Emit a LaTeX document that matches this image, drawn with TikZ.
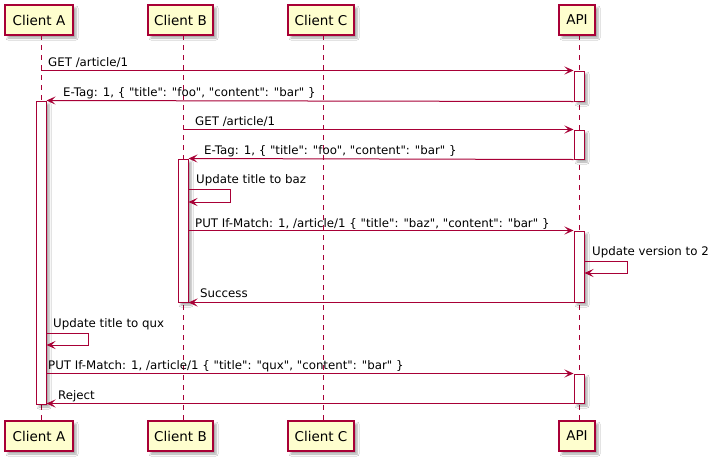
\documentclass[tikz,border=0pt]{standalone}
\usepackage{fontspec}
\setmainfont{DejaVu Sans}
\usetikzlibrary{arrows.meta,shadows.blur}
\definecolor{pumlred}{HTML}{A80036}
\definecolor{pumlfill}{HTML}{FEFECE}
\newcommand{\qq}{\textquotedbl}
\begin{document}
\begin{tikzpicture}[x=1pt,y=-1pt,
  pshadow/.style={blur shadow={shadow xshift=3pt,shadow yshift=-3pt,shadow blur radius=2pt,shadow opacity=35}},
  participant/.style={draw=pumlred,fill=pumlfill,line width=1.5pt,minimum height=30pt,inner sep=0pt,
    font=\fontsize{13.5}{16}\selectfont,pshadow},
  activation/.style={draw=pumlred,fill=white,line width=1pt,minimum width=10pt,inner sep=0pt,pshadow},
  lifeline/.style={draw=pumlred,line width=0.9pt,dash pattern=on 5pt off 5pt},
  msg/.style={draw=pumlred,line width=1pt,-{Stealth[length=9pt,width=8pt,inset=4pt]}},
  lbl/.style={anchor=base west,inner sep=0pt,font=\fontsize{11.8}{14}\selectfont}]
\useasboundingbox (0,0) rectangle (720,464);
\fill[white] (0,0) rectangle (720,464);

% participants
\node[participant,minimum width=68pt] (topA) at (39,20) {Client A};
\node[participant,minimum width=65pt] (topB) at (180.5,20) {Client B};
\node[participant,minimum width=66pt] (topC) at (321,20) {Client C};
\node[participant,minimum width=36pt] (topAPI) at (577,20) {API};
\node[participant,minimum width=68pt] (botA) at (39,436) {Client A};
\node[participant,minimum width=65pt] (botB) at (180.5,436) {Client B};
\node[participant,minimum width=66pt] (botC) at (321,436) {Client C};
\node[participant,minimum width=36pt] (botAPI) at (577,436) {API};

% lifelines
\coordinate (lA) at (41,35);  \coordinate (lAe) at (41,421);
\coordinate (lB) at (183,35); \coordinate (lBe) at (183,421);
\coordinate (lC) at (323,35); \coordinate (lCe) at (323,421);
\coordinate (lP) at (579,35); \coordinate (lPe) at (579,421);
\draw[lifeline] (lA) -- (lAe);
\draw[lifeline] (lB) -- (lBe);
\draw[lifeline] (lC) -- (lCe);
\draw[lifeline] (lP) -- (lPe);

% activations
\node[activation,minimum height=303pt] (actA) at (41,252.5) {};
\node[activation,minimum height=143pt] (actB) at (183,230.5) {};
\node[activation,minimum height=30pt] (api1) at (579,86) {};
\node[activation,minimum height=29pt] (api2) at (579,144.5) {};
\node[activation,minimum height=71pt] (api3) at (579,266.5) {};
\node[activation,minimum height=29pt] (api4) at (579,388.5) {};

% messages
\draw[msg] (lA |- api1.north west) -- (api1.north west);
\draw[msg] (api1.south west) -- (actA.north east);
\draw[msg] (lB |- api2.north west) -- (api2.north west);
\draw[msg] (api2.south west) -- (actB.north east);
\coordinate (sb1) at (230,189); \coordinate (sb2) at (230,202);
\draw[msg] (actB.east |- sb1) -- (sb1) -- (sb2) -- (actB.east |- sb2);
\draw[msg] (actB.east |- api3.north west) -- (api3.north west);
\coordinate (sp1) at (627,261); \coordinate (sp2) at (627,273);
\draw[msg] (api3.east |- sp1) -- (sp1) -- (sp2) -- (api3.east |- sp2);
\draw[msg] (api3.south west) -- (actB.south east);
\coordinate (sa1) at (88,333); \coordinate (sa2) at (88,345);
\draw[msg] (actA.east |- sa1) -- (sa1) -- (sa2) -- (actA.east |- sa2);
\draw[msg] (actA.east |- api4.north west) -- (api4.north west);
\draw[msg] (api4.south west) -- (actA.east |- api4.south west);

% labels
\node[lbl] (t1) at (48,66.5) {GET /article/1};
\node[lbl] (t2) at (63,96.5) {E-Tag: 1, \{ \qq title\qq: \qq foo\qq, \qq content\qq: \qq bar\qq\ \}};
\node[lbl] (t3) at (195,125.5) {GET /article/1};
\node[lbl] (t4) at (204,154.5) {E-Tag: 1, \{ \qq title\qq: \qq foo\qq, \qq content\qq: \qq bar\qq\ \}};
\node[lbl] (t5) at (196,183.5) {Update title to baz};
\node[lbl] (t6) at (195,227) {PUT If-Match: 1, /article/1 \{ \qq title\qq: \qq baz\qq, \qq content\qq: \qq bar\qq\ \}};
\node[lbl] (t7) at (592,255.5) {Update version to 2};
\node[lbl] (t8) at (200,297.5) {Success};
\node[lbl] (t9) at (53,327.5) {Update title to qux};
\node[lbl] (t10) at (48,369.5) {PUT If-Match: 1, /article/1 \{ \qq title\qq: \qq qux\qq, \qq content\qq: \qq bar\qq\ \}};
\node[lbl] (t11) at (58,399.5) {Reject};
\end{tikzpicture}
\end{document}
